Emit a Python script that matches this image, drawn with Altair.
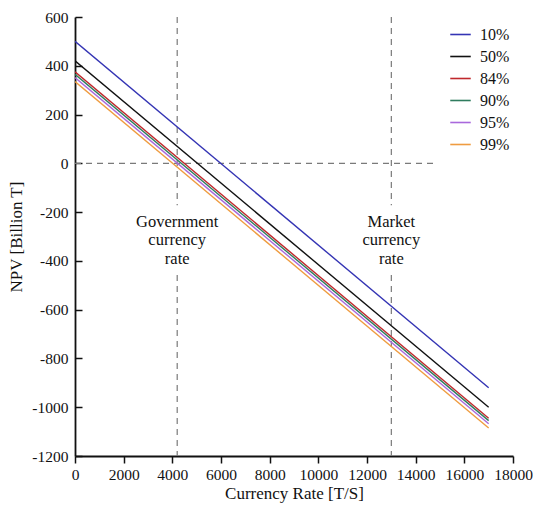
import altair as alt
import pandas as pd

# NPV lines for each confidence level, straight from rate 0 to rate 17000
levels = ["10%", "50%", "84%", "90%", "95%", "99%"]
npv_at_start = [500, 420, 375, 365, 352, 335]
npv_at_end = [-920, -1000, -1045, -1055, -1068, -1085]
rate_start = 0
rate_end = 17000
colors = ["#3434b4", "#111111", "#c0282c", "#2f7c5e", "#a968dc", "#ef9c40"]

# Reference currency rates and their labels (first text line sits at label_npv)
ref_rates = [4200, 13000]
ref_labels = ["Government\ncurrency\nrate", "Market\ncurrency\nrate"]
label_npv = -240
# vertical reference line pieces (kept clear of the text)
upper_seg = (600, -172)
lower_seg = (-458, -1200)
zero_line_end = 14800

FONT = "Liberation Serif"

rows = []
for lvl, a, b in zip(levels, npv_at_start, npv_at_end):
    rows.append({"level": lvl, "rate": rate_start, "npv": a})
    rows.append({"level": lvl, "rate": rate_end, "npv": b})
lines_df = pd.DataFrame(rows)

xscale = alt.Scale(domain=[0, 18000], nice=False)
yscale = alt.Scale(domain=[-1200, 600], nice=False)

x_axis = alt.Axis(
    values=list(range(0, 18001, 1000)),
    labelExpr="datum.value % 2000 === 0 ? '' + datum.value : ''",
    labelOverlap=False,
    labelFlush=False,
    labelFont=FONT,
    tickSize={"condition": {"test": "datum.value % 2000 === 0", "value": 7}, "value": 4},
    labelPadding=4,
    title="Currency Rate [T/S]",
    titlePadding=3,
    grid=False,
)
y_axis = alt.Axis(
    values=list(range(-1200, 601, 100)),
    labelExpr="datum.value % 200 === 0 ? '' + datum.value : ''",
    labelOverlap=False,
    labelFlush=False,
    labelFont=FONT,
    tickSize={"condition": {"test": "datum.value % 200 === 0", "value": -7}, "value": -4},
    labelPadding=14,
    title="NPV [Billion T]",
    titlePadding=6,
    grid=False,
)

lines = alt.Chart(lines_df).mark_line(strokeWidth=1.4, clip=True).encode(
    x=alt.X("rate:Q", scale=xscale, axis=x_axis),
    y=alt.Y("npv:Q", scale=yscale, axis=y_axis),
    color=alt.Color(
        "level:N",
        scale=alt.Scale(domain=levels, range=colors),
        sort=levels,
        legend=alt.Legend(
            title=None,
            orient="none",
            legendX=374,
            legendY=6,
            symbolType="stroke",
            symbolSize=420,
            symbolStrokeWidth=1.6,
            labelFont=FONT,
            labelFontSize=16,
            labelColor="#111111",
            rowPadding=2,
            labelOffset=8,
        ),
    ),
)

dash = [6, 5]
grey = "#7a7a7a"

zero_df = pd.DataFrame({"x": [0], "x2": [zero_line_end], "y": [0]})
zero_rule = alt.Chart(zero_df).mark_rule(color=grey, strokeDash=dash, strokeWidth=1.2).encode(
    x="x:Q", x2="x2:Q", y="y:Q"
)

seg_rows = []
for r in ref_rates:
    seg_rows.append({"x": r, "y": upper_seg[0], "y2": upper_seg[1]})
    seg_rows.append({"x": r, "y": lower_seg[0], "y2": lower_seg[1]})
seg_df = pd.DataFrame(seg_rows)
ref_rules = alt.Chart(seg_df).mark_rule(color=grey, strokeDash=dash, strokeWidth=1.2).encode(
    x="x:Q", y="y:Q", y2="y2:Q"
)

txt_df = pd.DataFrame({"x": ref_rates, "y": [label_npv] * 2, "t": ref_labels})
ref_text = alt.Chart(txt_df).mark_text(
    font=FONT, fontSize=16.5, lineBreak="\n", lineHeight=18.5, color="#111111",
    align="center", baseline="middle",
).encode(x="x:Q", y="y:Q", text="t:N")

chart = alt.layer(zero_rule, ref_rules, lines, ref_text).properties(
    width=438,
    height=439,
    autosize="none",
    padding={"left": 75, "top": 17, "right": 20, "bottom": 52},
).configure_view(stroke=None).configure_axis(
    domainColor="#111111",
    domainWidth=1.8,
    tickColor="#111111",
    tickWidth=1.5,
    labelFont=FONT,
    labelFontSize=15.5,
    labelColor="#111111",
    titleFont=FONT,
    titleFontSize=17,
    titleFontWeight="normal",
    titleColor="#111111",
)

chart.save("out.html", embed_options={"renderer": "svg", "actions": False})
